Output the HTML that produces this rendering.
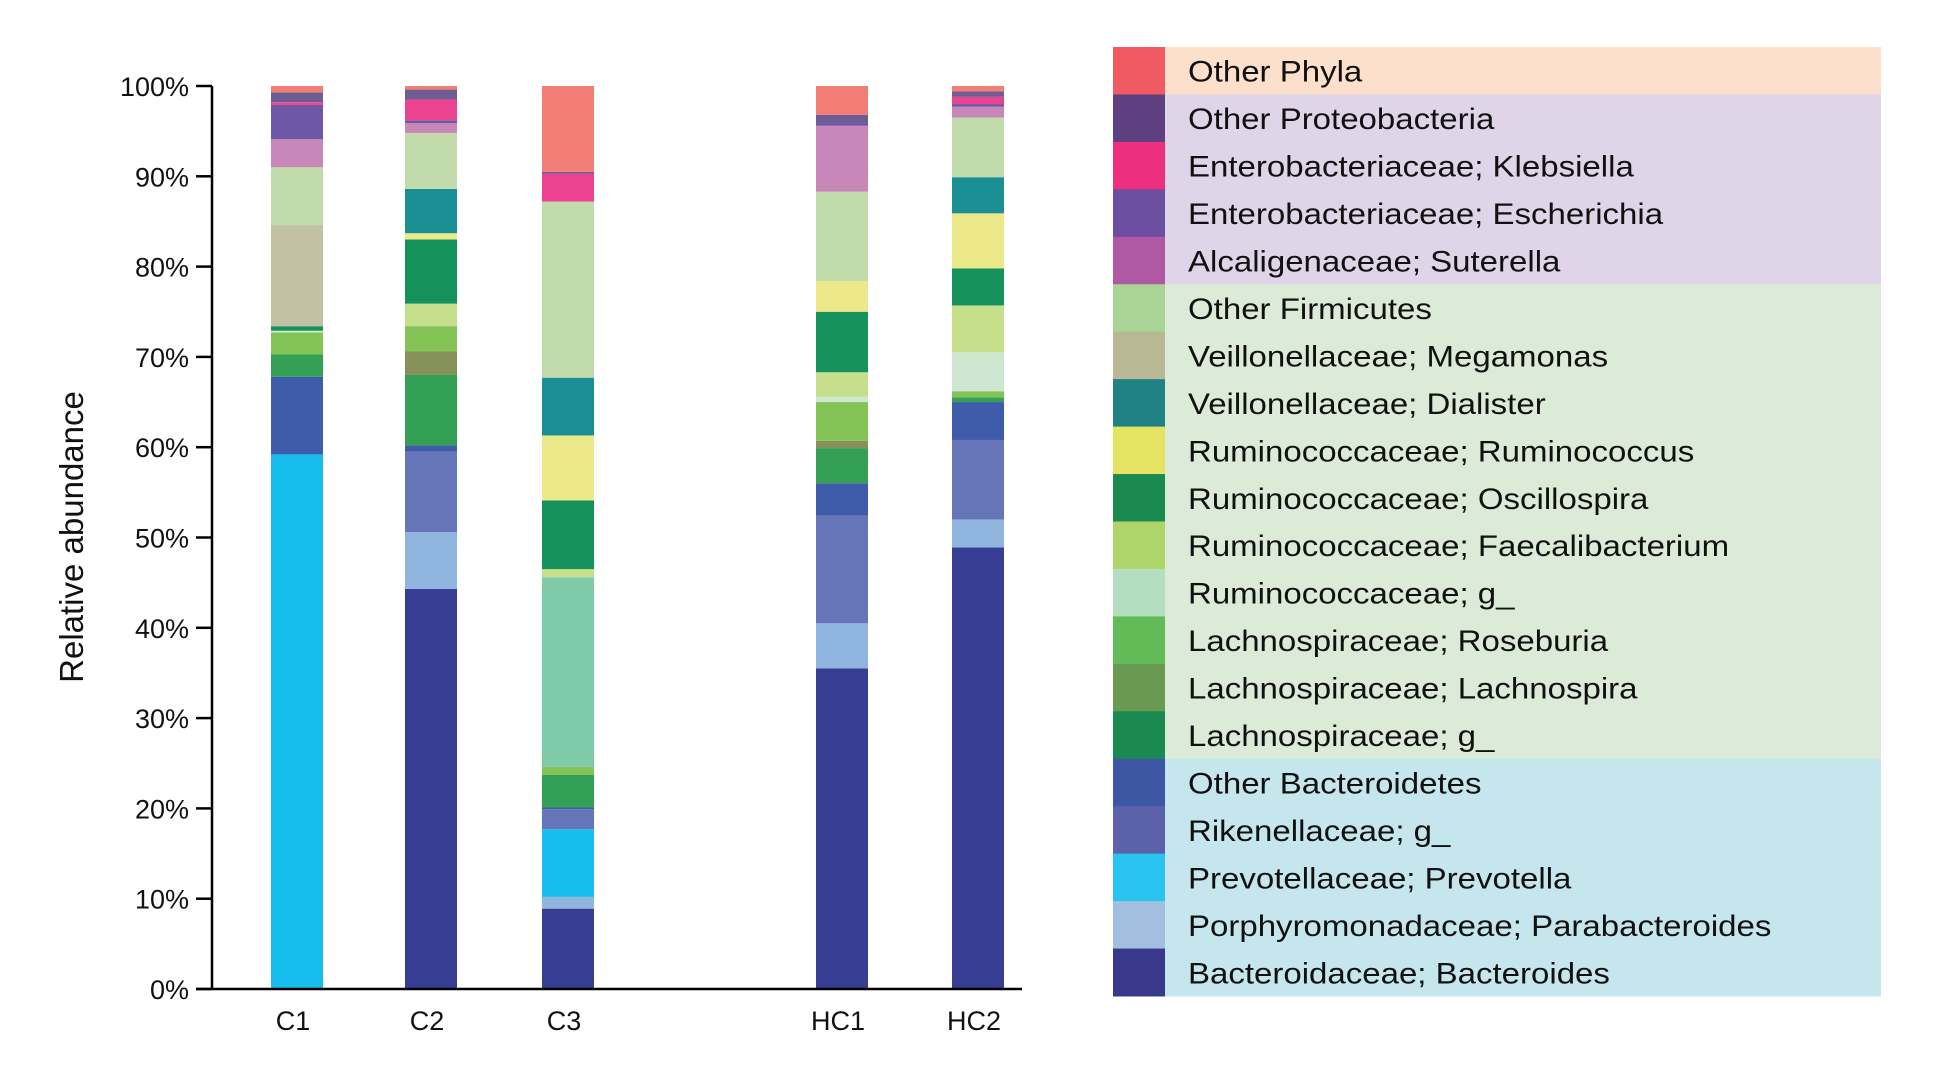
<!DOCTYPE html>
<html><head><meta charset="utf-8"><style>
body{margin:0;background:#fff;}
svg{display:block;font-family:"Liberation Sans",Arial,sans-serif;}
</style></head><body>
<svg id="chart" width="1933" height="1066" viewBox="0 0 1933 1066" xmlns="http://www.w3.org/2000/svg"></svg>
<script>
const samples = ["C1","C2","C3","HC1","HC2"];
const seriesNames = ["Bacteroidaceae; Bacteroides","Porphyromonadaceae; Parabacteroides","Prevotellaceae; Prevotella","Rikenellaceae; g_","Other Bacteroidetes","Lachnospiraceae; g_","Lachnospiraceae; Lachnospira","Lachnospiraceae; Roseburia","Ruminococcaceae; g_","Ruminococcaceae; Faecalibacterium","Ruminococcaceae; Oscillospira","Ruminococcaceae; Ruminococcus","Veillonellaceae; Dialister","Veillonellaceae; Megamonas","Other Firmicutes","Alcaligenaceae; Suterella","Enterobacteriaceae; Escherichia","Enterobacteriaceae; Klebsiella","Other Proteobacteria","Other Phyla"];
const valC1 = [0,0,59.2,0,8.6,2.5,0,2.4,0.2,0,0.5,0,0,11.2,6.4,3.1,3.8,0.3,1.1,0.7];
const valC2 = [44.3,6.3,0,8.9,0.7,7.8,2.6,2.8,0,2.5,7.1,0.7,4.9,0,6.2,1.1,0.3,2.3,1.1,0.4];
const valC3 = [8.9,1.3,7.5,2.2,0.2,3.6,0,0.9,21.0,0.9,7.6,7.2,6.4,0,19.5,0,0,3.1,0.2,9.5];
const valHC1 = [35.5,5.0,0,11.9,3.6,3.9,0.8,4.3,0.6,2.7,6.7,3.4,0,0,9.9,7.3,0.3,0,0.9,3.2];
const valHC2 = [48.9,3.1,0,8.8,4.2,0.5,0,0.7,4.3,5.2,4.1,6.1,4.0,0,6.6,1.2,0.3,0.8,0.6,0.6];
const yTicks = [0,10,20,30,40,50,60,70,80,90,100];

const values=[valC1,valC2,valC3,valHC1,valHC2];
const barColors=["#363d92","#8fb5df","#17bdec","#6674b8","#3f5caa","#33a055","#86915a","#84c355","#cfe6d0","#c5df8b","#15915b","#ebe98a","#1a9094","#c3c1a5","#c2dbaa","#c887b9","#6e58a6","#ec4390","#6e5d93","#f27d74"];
const swColors=["#39398c","#a2bfe0","#29c5f0","#5b62aa","#3d57a5","#1a8a50","#6a9a52","#63bb57","#b3dfc0","#aed56a","#1a8a50","#e4e362","#218285","#b8b895","#a8d595","#b058a3","#6c4fa0","#ec2f7f","#5e3f80","#ef5a63"];
const groupBg=["#c6e6ee","#c6e6ee","#c6e6ee","#c6e6ee","#c6e6ee","#dcebd8","#dcebd8","#dcebd8","#dcebd8","#dcebd8","#dcebd8","#dcebd8","#dcebd8","#dcebd8","#dcebd8","#e0d5e8","#e0d5e8","#e0d5e8","#e0d5e8","#fde0cc"];
const centers=[297,431,568,842,978];
const NS="http://www.w3.org/2000/svg";
const svg=document.getElementById('chart');
function y(v){return 989-v*9.03;}
function mk(t,a,p){const e=document.createElementNS(NS,t);for(const k in a)e.setAttribute(k,a[k]);(p||svg).appendChild(e);return e;}
samples.forEach((s,i)=>{
  let cum=0;
  const g=mk('g',{});
  
  
  values[i].forEach((v,j)=>{
    if(v<=0)return;
    const col=(i===2&&j===8)?"#7ecaa9":barColors[j];
    const r=mk('rect',{x:centers[i]-26,y:y(cum+v),width:52,height:y(cum)-y(cum+v),fill:col},g);
    
    
    cum+=v;
  });
  const t=mk('text',{x:centers[i]-4,y:1030,'text-anchor':'middle','font-size':27,fill:'#111'});
  t.textContent=s;
  
  
});
const ax=mk('path',{d:'M212 '+y(100)+' V'+y(0)+' M196 '+y(0)+' H1022',stroke:'#000','stroke-width':2.5,fill:'none'});


yTicks.forEach(v=>{
  const l=mk('line',{x1:196,x2:212,y1:y(v),y2:y(v),stroke:'#000','stroke-width':2.5});
  
  
  const t=mk('text',{x:189,y:y(v)+10,'text-anchor':'end','font-size':27,fill:'#111'});
  t.textContent=v+'%';
  
  
});
const yt=mk('text',{x:0,y:0,transform:'translate(83,537) rotate(-90)','text-anchor':'middle','font-size':33,fill:'#111'});
yt.textContent='Relative abundance';


const legTop=47,rh=47.45;
for(let k=0;k<20;k++){
  const j=19-k;
  const g=mk('g',{});
  
  
  mk('rect',{x:1165,y:legTop+k*rh,width:716,height:rh+0.5,fill:groupBg[j]},g);
  mk('rect',{x:1113,y:legTop+k*rh,width:52,height:rh+0.5,fill:swColors[j]},g);
  const t=mk('text',{x:1188,y:legTop+k*rh+rh/2+11,'font-size':30,fill:'#111'},g);
  t.textContent=seriesNames[j];
  const len=t.getComputedTextLength();
  if(len>0){t.setAttribute('textLength',(len*1.1).toFixed(1));t.setAttribute('lengthAdjust','spacingAndGlyphs');}
}
</script>
</body></html>
